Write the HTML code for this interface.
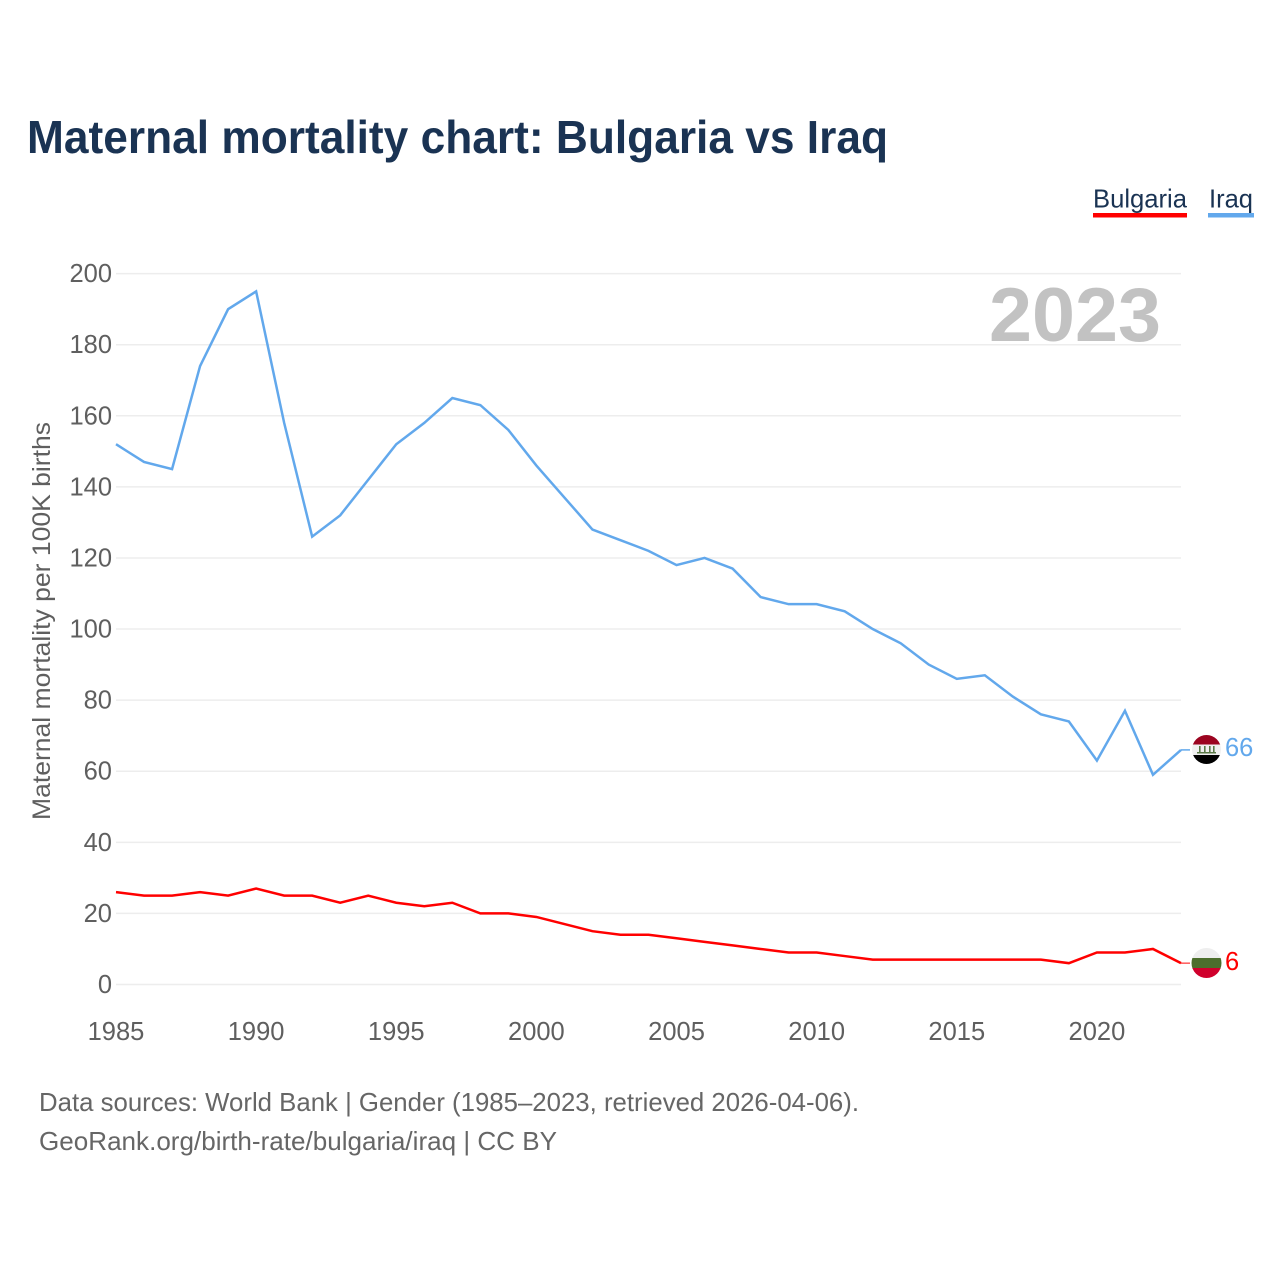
<!DOCTYPE html>
<html>
<head>
<meta charset="utf-8">
<style>
html,body{margin:0;padding:0;background:#fff;}
svg{display:block;font-family:"Liberation Sans",sans-serif;}
</style>
</head>
<body>
<svg id="chart" xmlns="http://www.w3.org/2000/svg" width="1280" height="1280" viewBox="0 0 1280 1280">
  <rect x="0" y="0" width="1280" height="1280" fill="#ffffff"/>
  <text x="27" y="153" font-size="46" font-weight="700" fill="#1a3353" textLength="861" lengthAdjust="spacingAndGlyphs">Maternal mortality chart: Bulgaria vs Iraq</text>
  <g>
    <text x="1093" y="207.5" font-size="26" fill="#1a3353" textLength="94" lengthAdjust="spacingAndGlyphs">Bulgaria</text>
    <rect x="1093" y="213" width="94" height="4.5" fill="#ff0000"/>
  </g>
  <g>
    <text x="1209" y="207.5" font-size="26" fill="#1a3353" textLength="44" lengthAdjust="spacingAndGlyphs">Iraq</text>
    <rect x="1208" y="213" width="46" height="4.5" fill="#62a8ec"/>
  </g>
  <g id="gridlines"></g>
  <g id="y-ticks"></g>
  <g id="x-ticks"></g>
  <text x="1161" y="341" text-anchor="end" font-size="76" font-weight="700" fill="#c2c2c2" textLength="172" lengthAdjust="spacingAndGlyphs">2023</text>
  <text transform="translate(50,621) rotate(-90)" text-anchor="middle" font-size="25" fill="#5f5f5f" textLength="398" lengthAdjust="spacingAndGlyphs">Maternal mortality per 100K births</text>
  <g id="series"></g>
  <defs>
    <clipPath id="clip-iraq"><circle cx="1206.5" cy="749.5" r="14.5"/></clipPath>
    <clipPath id="clip-bulgaria"><circle cx="1206.5" cy="963" r="15"/></clipPath>
  </defs>
  <g id="iraq-flag" clip-path="url(#clip-iraq)">
    <rect x="1191" y="734" width="31" height="11" fill="#9c0420"/>
    <rect x="1191" y="744.5" width="31" height="10.5" fill="#f0f0f0"/>
    <rect x="1191" y="755" width="31" height="11" fill="#000000"/>
    <rect x="1197" y="752" width="19" height="1.5" fill="#5b7a48"/>
    <rect x="1199" y="746" width="1.6" height="6" fill="#5b7a48"/>
    <rect x="1204" y="746" width="1.6" height="6" fill="#5b7a48"/>
    <rect x="1209" y="746" width="1.6" height="6" fill="#5b7a48"/>
    <rect x="1213" y="746" width="1.6" height="6" fill="#5b7a48"/>
  </g>
  <g id="bulgaria-flag" clip-path="url(#clip-bulgaria)">
    <rect x="1191" y="948" width="31" height="11" fill="#eeeeee"/>
    <rect x="1191" y="958" width="31" height="11" fill="#4c6e2d"/>
    <rect x="1191" y="968" width="31" height="11" fill="#d0002c"/>
  </g>
  <g id="end-labels"></g>
  <text x="39" y="1111" font-size="26" fill="#666666" textLength="820" lengthAdjust="spacingAndGlyphs">Data sources: World Bank | Gender (1985–2023, retrieved 2026-04-06).</text>
  <text x="39" y="1150" font-size="26" fill="#666666" textLength="518" lengthAdjust="spacingAndGlyphs">GeoRank.org/birth-rate/bulgaria/iraq | CC BY</text>
</svg>
<script>
var years = [1985,1986,1987,1988,1989,1990,1991,1992,1993,1994,1995,1996,1997,1998,1999,2000,2001,2002,2003,2004,2005,2006,2007,2008,2009,2010,2011,2012,2013,2014,2015,2016,2017,2018,2019,2020,2021,2022,2023];
var iraqValues = [152,147,145,174,190,195,158,126,132,142,152,158,165,163,156,146,137,128,125,122,118,120,117,109,107,107,105,100,96,90,86,87,81,76,74,63,77,59,66];
var bulgariaValues = [26,25,25,26,25,27,25,25,23,25,23,22,23,20,20,19,17,15,14,14,13,12,11,10,9,9,8,7,7,7,7,7,7,7,6,9,9,10,6];
var yTickValues = [0,20,40,60,80,100,120,140,160,180,200];
var xTickValues = [1985,1990,1995,2000,2005,2010,2015,2020];

var NS = 'http://www.w3.org/2000/svg';
function xScale(year) { return 116 + (year - 1985) * (1181 - 116) / 38; }
function yScale(value) { return 984.5 - value * (984.5 - 273.6) / 200; }
function make(tag, parent, attrs) {
  var el = document.createElementNS(NS, tag);
  for (var k in attrs) { el.setAttribute(k, attrs[k]); }
  document.getElementById(parent).appendChild(el);
  return el;
}

yTickValues.forEach(function (v) {
  var line = make('line', 'gridlines', {x1: 116, x2: 1181, y1: yScale(v), y2: yScale(v), stroke: '#ededed', 'stroke-width': 1.5});
  
  
  var label = make('text', 'y-ticks', {x: 112, y: yScale(v) + 8.5, 'text-anchor': 'end', 'font-size': 25.5, fill: '#5f5f5f'});
  
  
  label.textContent = v;
});

xTickValues.forEach(function (year) {
  var label = make('text', 'x-ticks', {x: xScale(year), y: 1040, 'text-anchor': 'middle', 'font-size': 25.5, fill: '#5f5f5f'});
  
  
  label.textContent = year;
});

function pointsFor(values) {
  return values.map(function (v, i) { return xScale(years[i]).toFixed(2) + ',' + yScale(v).toFixed(2); }).join(' ');
}

var iraqLine = make('polyline', 'series', {points: pointsFor(iraqValues), fill: 'none', stroke: '#62a8ec', 'stroke-width': 2.5, 'stroke-linejoin': 'miter'});



var bulgariaLine = make('polyline', 'series', {points: pointsFor(bulgariaValues), fill: 'none', stroke: '#ff0000', 'stroke-width': 2.5, 'stroke-linejoin': 'miter'});



var lastIraq = iraqValues[iraqValues.length - 1];
var lastBulgaria = bulgariaValues[bulgariaValues.length - 1];

var iraqLead = make('line', 'series', {x1: 1181, x2: 1190, y1: yScale(lastIraq), y2: yScale(lastIraq), stroke: '#62a8ec', 'stroke-width': 1.5});



var bulgariaLead = make('line', 'series', {x1: 1181, x2: 1190, y1: yScale(lastBulgaria), y2: yScale(lastBulgaria), stroke: '#ff5a5a', 'stroke-width': 1.5});



var iraqEnd = make('text', 'end-labels', {x: 1225, y: yScale(lastIraq) + 6, 'font-size': 25.5, fill: '#62a8ec'});


iraqEnd.textContent = lastIraq;

var bulgariaEnd = make('text', 'end-labels', {x: 1225, y: yScale(lastBulgaria) + 7, 'font-size': 25.5, fill: '#ff0000'});


bulgariaEnd.textContent = lastBulgaria;
</script>
</body>
</html>
